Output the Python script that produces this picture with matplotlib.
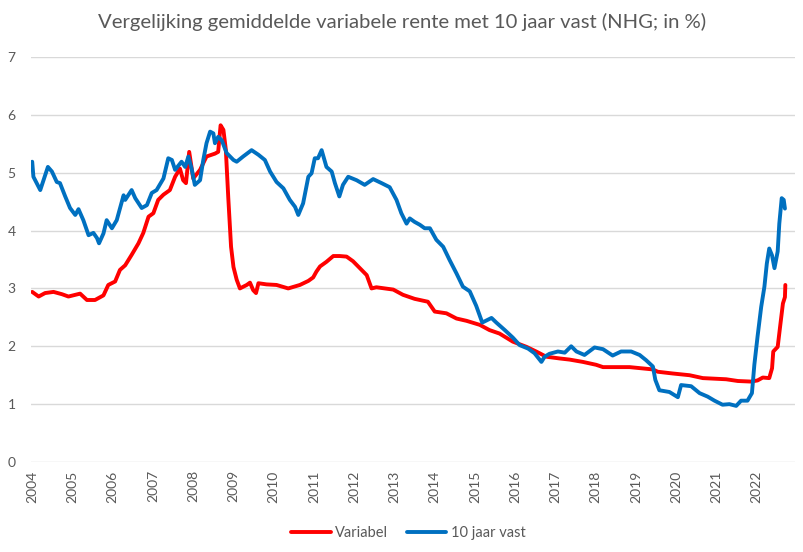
import matplotlib
matplotlib.use("Agg")
import matplotlib.pyplot as plt

# decimal years
vast_t = [2004.00, 2004.03, 2004.20, 2004.39, 2004.49, 2004.61, 2004.69, 2004.82, 2004.94,
          2005.07, 2005.15, 2005.27, 2005.40, 2005.52, 2005.61, 2005.66, 2005.77, 2005.85,
          2005.98, 2006.10, 2006.27, 2006.31, 2006.47, 2006.56, 2006.72, 2006.85, 2006.97,
          2007.09, 2007.26, 2007.38, 2007.47, 2007.55, 2007.71, 2007.80, 2007.88, 2007.96,
          2008.04, 2008.17, 2008.25, 2008.33, 2008.42, 2008.50, 2008.54, 2008.62, 2008.71,
          2008.83, 2009.00, 2009.08, 2009.24, 2009.45, 2009.62, 2009.78, 2009.91, 2010.07,
          2010.24, 2010.40, 2010.53, 2010.61, 2010.73, 2010.86, 2010.94, 2011.02, 2011.10,
          2011.19, 2011.31, 2011.44, 2011.52, 2011.63, 2011.72, 2011.85, 2012.06, 2012.26,
          2012.47, 2012.68, 2012.88, 2013.05, 2013.17, 2013.30, 2013.38, 2013.50, 2013.63,
          2013.75, 2013.88, 2014.04, 2014.21, 2014.37, 2014.54, 2014.70, 2014.87, 2015.03,
          2015.18, 2015.41, 2015.53, 2015.74, 2015.94, 2016.11, 2016.32, 2016.48, 2016.65,
          2016.73, 2016.85, 2017.06, 2017.23, 2017.39, 2017.52, 2017.72, 2017.97, 2018.18,
          2018.42, 2018.63, 2018.88, 2019.09, 2019.25, 2019.42, 2019.48, 2019.58, 2019.83,
          2020.04, 2020.12, 2020.25, 2020.37, 2020.58, 2020.78, 2020.95, 2021.15, 2021.32,
          2021.49, 2021.61, 2021.77, 2021.88, 2021.94, 2022.02, 2022.11, 2022.19, 2022.25,
          2022.31, 2022.38, 2022.44, 2022.52, 2022.56, 2022.62, 2022.67, 2022.70]
vast_y = [5.19, 4.93, 4.70, 5.10, 5.02, 4.84, 4.82, 4.59, 4.39,
          4.27, 4.37, 4.18, 3.92, 3.96, 3.87, 3.78, 3.95, 4.18,
          4.04, 4.18, 4.61, 4.53, 4.70, 4.56, 4.39, 4.44, 4.65,
          4.70, 4.90, 5.25, 5.22, 5.05, 5.19, 5.10, 5.28, 5.07,
          4.79, 4.87, 5.22, 5.51, 5.71, 5.68, 5.51, 5.62, 5.56,
          5.34, 5.22, 5.19, 5.28, 5.39, 5.31, 5.22, 5.02, 4.84,
          4.73, 4.53, 4.41, 4.27, 4.47, 4.93, 4.99, 5.25, 5.25,
          5.39, 5.10, 5.02, 4.82, 4.59, 4.79, 4.93, 4.87, 4.79,
          4.89, 4.82, 4.75, 4.53, 4.30, 4.12, 4.21, 4.15, 4.10,
          4.04, 4.04, 3.84, 3.72, 3.49, 3.26, 3.03, 2.95, 2.70,
          2.41, 2.49, 2.41, 2.28, 2.15, 2.02, 1.96, 1.88, 1.73,
          1.82, 1.87, 1.91, 1.89, 2.00, 1.91, 1.85, 1.98, 1.95,
          1.84, 1.91, 1.91, 1.85, 1.76, 1.65, 1.42, 1.24, 1.21,
          1.12, 1.33, 1.32, 1.31, 1.19, 1.13, 1.06, 0.99, 1.00,
          0.97, 1.06, 1.06, 1.19, 1.68, 2.17, 2.68, 3.03, 3.43,
          3.69, 3.57, 3.35, 3.64, 4.12, 4.56, 4.53, 4.38]

var_t = [2004.00, 2004.16, 2004.32, 2004.53, 2004.74, 2004.90, 2005.19, 2005.36, 2005.56,
         2005.77, 2005.89, 2006.06, 2006.18, 2006.31, 2006.47, 2006.64, 2006.76, 2006.89,
         2007.01, 2007.13, 2007.26, 2007.42, 2007.55, 2007.67, 2007.75, 2007.82, 2007.90,
         2008.00, 2008.17, 2008.33, 2008.54, 2008.62, 2008.68, 2008.75, 2008.81, 2008.87,
         2008.94, 2009.00, 2009.08, 2009.16, 2009.33, 2009.41, 2009.49, 2009.56, 2009.62,
         2009.82, 2010.07, 2010.36, 2010.65, 2010.86, 2010.98, 2011.06, 2011.15, 2011.31,
         2011.48, 2011.64, 2011.81, 2011.97, 2012.14, 2012.31, 2012.43, 2012.55, 2012.97,
         2013.21, 2013.50, 2013.83, 2014.00, 2014.29, 2014.54, 2014.79, 2015.12, 2015.36,
         2015.61, 2015.94, 2016.28, 2016.52, 2016.77, 2017.10, 2017.35, 2017.68, 2018.01,
         2018.18, 2018.84, 2019.42, 2019.54, 2019.91, 2020.33, 2020.66, 2021.24, 2021.53,
         2021.86, 2022.02, 2022.15, 2022.31, 2022.38, 2022.41, 2022.52, 2022.58, 2022.65,
         2022.70, 2022.71]
var_y = [2.94, 2.86, 2.92, 2.94, 2.90, 2.86, 2.91, 2.80, 2.80,
         2.88, 3.06, 3.12, 3.32, 3.40, 3.58, 3.78, 3.96, 4.24,
         4.30, 4.53, 4.62, 4.70, 4.93, 5.07, 4.87, 4.82, 5.36,
         4.90, 5.05, 5.28, 5.33, 5.36, 5.82, 5.74, 5.40, 4.58,
         3.72, 3.37, 3.15, 3.00, 3.06, 3.10, 2.97, 2.92, 3.09,
         3.07, 3.06, 3.00, 3.06, 3.13, 3.19, 3.29, 3.38, 3.46,
         3.56, 3.56, 3.55, 3.47, 3.35, 3.23, 3.00, 3.02, 2.98,
         2.89, 2.82, 2.77, 2.60, 2.57, 2.48, 2.44, 2.37, 2.28,
         2.22, 2.08, 1.99, 1.91, 1.82, 1.79, 1.77, 1.73, 1.68,
         1.64, 1.64, 1.60, 1.56, 1.53, 1.50, 1.45, 1.43, 1.40,
         1.39, 1.41, 1.46, 1.45, 1.62, 1.91, 1.99, 2.34, 2.74,
         2.85, 3.06]

years = list(range(2004, 2023))

plt.rcParams["font.family"] = ["Lato", "DejaVu Sans"]

fig = plt.figure(figsize=(8.04, 5.52), dpi=100)
ax = fig.add_axes([31 / 804, 1 - 462 / 552, (795 - 31) / 804, (462 - 57) / 552])

ax.plot(var_t, var_y, color="#FF0000", lw=2.8, label="Variabel", solid_capstyle="round")
ax.plot(vast_t, vast_y, color="#0070C0", lw=2.8, label="10 jaar vast", solid_capstyle="round")

ax.set_xlim(2003.97, 2022.95)
ax.set_ylim(0, 7)
ax.set_yticks(range(0, 8))
ax.set_xticks(years)
ax.set_xticklabels([str(y) for y in years], rotation=90)
ax.tick_params(length=0, labelsize=10, colors="#595959")
ax.tick_params(axis="y", pad=11)
ax.tick_params(axis="x", pad=6)
ax.yaxis.grid(True, color="#D9D9D9", lw=1)
ax.set_axisbelow(True)
for s in ax.spines.values():
    s.set_visible(False)

fig.text(0.5, 1 - 22 / 552, "Vergelijking gemiddelde variabele rente met 10 jaar vast (NHG; in %)",
         ha="center", va="center", fontsize=14.6, color="#595959")

fig.legend(loc="center", bbox_to_anchor=(0.508, 1 - 533 / 552), ncol=2, frameon=False,
           fontsize=10.5, handlelength=2.7, handletextpad=0.3, columnspacing=1.3,
           labelcolor="#595959")

fig.savefig("out.png", dpi=100)
